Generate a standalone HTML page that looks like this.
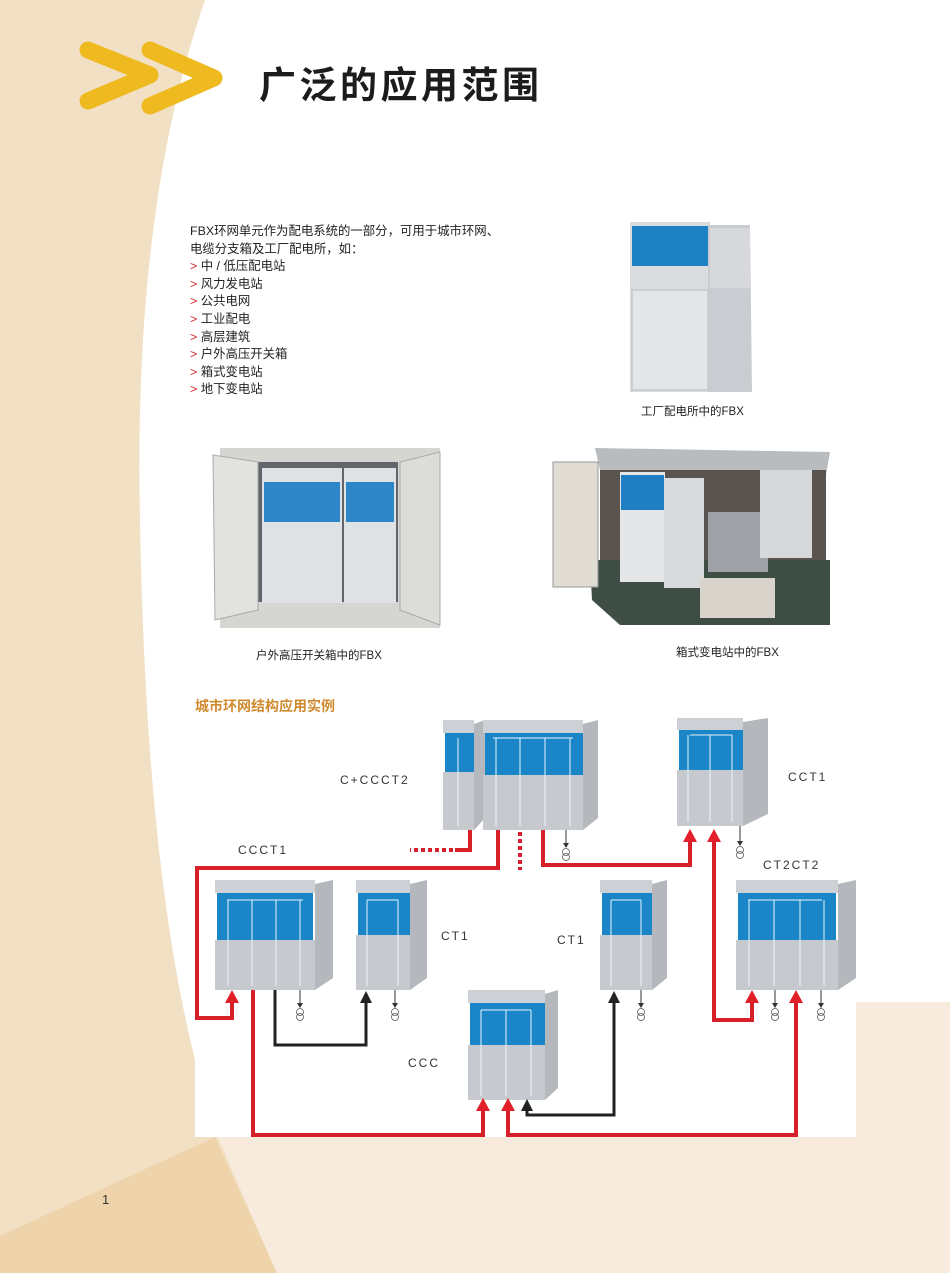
<!DOCTYPE html>
<html><head><meta charset="utf-8"><style>
body{margin:0;width:950px;height:1273px;position:relative;overflow:hidden;background:#fff;font-family:"Liberation Sans","Noto Sans CJK SC",sans-serif;}
.t{position:absolute;white-space:nowrap;}
.p{font-size:12.4px;color:#222;line-height:17.6px;}
.r{color:#d2232a;}
.cap{font-size:11.5px;color:#222;}
.lbl{position:absolute;font-size:12px;color:#333;letter-spacing:2px;}
</style></head><body>
<svg width="950" height="1273" style="position:absolute;left:0;top:0">
<path d="M0 0 L205 0 C160 130 135 300 140 520 C145 800 170 1000 218 1137 L277 1273 L0 1273 Z" fill="#f2e0c4"/>
<path d="M218 1137 L950 1137 L950 1273 L277 1273 Z" fill="#f8ebde"/>
<path d="M856 1002 L950 1002 L950 1137 L856 1137 Z" fill="#f8ebde"/>
<path d="M0 1236 L215 1137 L277 1273 L0 1273 Z" fill="#eed3ab"/>
<path d="M88 50 L150 75 L88 101" stroke="#efb920" stroke-width="17" fill="none" stroke-linecap="round" stroke-linejoin="round"/>
<path d="M150 50 L214 78 L150 106" stroke="#efb920" stroke-width="17" fill="none" stroke-linecap="round" stroke-linejoin="round"/>
<!-- photo1 -->
<rect x="630" y="222" width="80" height="170" fill="#d9dbde"/>
<rect x="632" y="226" width="76" height="40" fill="#1d82c4"/>
<rect x="632" y="290" width="76" height="100" fill="#e3e5e8" stroke="#b9bdc2"/>
<polygon points="708,225 750,225 752,392 708,392" fill="#c9ccd0"/>
<rect x="710" y="228" width="40" height="60" fill="#d7d9dc"/>
<!-- photo2 -->
<rect x="220" y="448" width="220" height="180" fill="#d5d6d2"/>
<rect x="258" y="462" width="140" height="140" fill="#62666b"/>
<rect x="262" y="468" width="80" height="135" fill="#dfe2e5"/>
<rect x="344" y="468" width="52" height="135" fill="#dfe2e5"/>
<rect x="264" y="482" width="76" height="40" fill="#2d86c7"/>
<rect x="346" y="482" width="48" height="40" fill="#2d86c7"/>
<polygon points="213,455 258,462 258,610 215,620" fill="#e2e3df" stroke="#aaa"/>
<polygon points="400,462 440,452 440,625 400,610" fill="#dcddd9" stroke="#aaa"/>
<!-- photo3 -->
<polygon points="595,448 830,452 826,475 600,470" fill="#b9bcbf"/>
<rect x="600" y="470" width="226" height="100" fill="#5a5450"/>
<polygon points="590,560 830,560 830,625 620,625 592,600" fill="#3e4e44"/>
<rect x="553" y="462" width="45" height="125" fill="#e0dcd4" stroke="#999"/>
<rect x="620" y="472" width="45" height="110" fill="#e4e6e8"/>
<rect x="621" y="475" width="43" height="35" fill="#1f7fc2"/>
<rect x="664" y="478" width="40" height="110" fill="#d9dadb"/>
<rect x="708" y="512" width="60" height="60" fill="#9ea2a6"/>
<rect x="760" y="470" width="52" height="88" fill="#d7d8d9"/>
<rect x="700" y="578" width="75" height="40" fill="#d8d4cc"/>
</svg>

<div class="t" style="left:259px;top:55px;font-size:37px;font-weight:bold;color:#1c1c1c;letter-spacing:3.5px;">广泛的应用范围</div>

<div class="t p" style="left:190px;top:223px;">FBX环网单元作为配电系统的一部分，可用于城市环网、<br>电缆分支箱及工厂配电所，如：<br><span class="r">&gt;</span> 中 / 低压配电站<br><span class="r">&gt;</span> 风力发电站<br><span class="r">&gt;</span> 公共电网<br><span class="r">&gt;</span> 工业配电<br><span class="r">&gt;</span> 高层建筑<br><span class="r">&gt;</span> 户外高压开关箱<br><span class="r">&gt;</span> 箱式变电站<br><span class="r">&gt;</span> 地下变电站</div>

<div class="t cap" style="left:641px;top:403px;">工厂配电所中的FBX</div>
<div class="t cap" style="left:256px;top:647px;">户外高压开关箱中的FBX</div>
<div class="t cap" style="left:676px;top:644px;">箱式变电站中的FBX</div>
<div class="t" style="left:195px;top:696px;font-size:14px;font-weight:bold;color:#d08a2e;">城市环网结构应用实例</div>

<svg width="950" height="1273" style="position:absolute;left:0;top:0">
<rect x="195" y="715" width="661" height="422" fill="#fff"/>
<defs><g id="tf"><circle cx="0" cy="4" r="3.5" fill="#fff" stroke="#555" stroke-width="0.8"/><circle cx="0" cy="9" r="3.5" fill="none" stroke="#555" stroke-width="0.8"/></g></defs>
<g stroke-width="0">
<polygon points="474,724 485,720 485,818 474,830" fill="#b4b7bc"/><rect x="443" y="720" width="31" height="13" fill="#cdd0d4"/><rect x="445" y="733" width="29" height="39" fill="#1a86c8"/><rect x="443" y="772" width="31" height="58" fill="#c6c9ce" stroke="#6b92b6"/>
<polygon points="583,724 598,720 598,818 583,830" fill="#b4b7bc"/><rect x="483" y="720" width="100" height="13" fill="#cdd0d4"/><rect x="485" y="733" width="98" height="42" fill="#1a86c8"/><rect x="483" y="775" width="100" height="55" fill="#c6c9ce" stroke="#6b92b6"/>
<path d="M508 775V830M533 775V830M558 775V830" stroke="#6b92b6"/>
<polygon points="743,722 768,718 768,814 743,826" fill="#b4b7bc"/><rect x="677" y="718" width="66" height="12" fill="#cdd0d4"/><rect x="679" y="730" width="64" height="40" fill="#1a86c8"/><rect x="677" y="770" width="66" height="56" fill="#c6c9ce" stroke="#6b92b6"/>
<path d="M699 770V826M721 770V826" stroke="#6b92b6"/>
<polygon points="315,884 333,880 333,978 315,990" fill="#b4b7bc"/><rect x="215" y="880" width="100" height="13" fill="#cdd0d4"/><rect x="217" y="893" width="96" height="47" fill="#1a86c8"/><rect x="215" y="940" width="100" height="50" fill="#c6c9ce" stroke="#6b92b6"/>
<path d="M241 940V990M264 940V990M289 940V990" stroke="#6b92b6"/>
<polygon points="410,884 427,880 427,978 410,990" fill="#b4b7bc"/><rect x="356" y="880" width="54" height="13" fill="#cdd0d4"/><rect x="358" y="893" width="52" height="42" fill="#1a86c8"/><rect x="356" y="935" width="54" height="55" fill="#c6c9ce" stroke="#6b92b6"/>
<path d="M383 935V990" stroke="#6b92b6"/>
<polygon points="652,884 667,880 667,978 652,990" fill="#b4b7bc"/><rect x="600" y="880" width="52" height="13" fill="#cdd0d4"/><rect x="602" y="893" width="50" height="42" fill="#1a86c8"/><rect x="600" y="935" width="52" height="55" fill="#c6c9ce" stroke="#6b92b6"/>
<path d="M626 935V990" stroke="#6b92b6"/>
<polygon points="838,884 856,880 856,978 838,990" fill="#b4b7bc"/><rect x="736" y="880" width="102" height="13" fill="#cdd0d4"/><rect x="738" y="893" width="98" height="47" fill="#1a86c8"/><rect x="736" y="940" width="102" height="50" fill="#c6c9ce" stroke="#6b92b6"/>
<path d="M762 940V990M787 940V990M813 940V990" stroke="#6b92b6"/>
<polygon points="545,994 558,990 558,1088 545,1100" fill="#b4b7bc"/><rect x="468" y="990" width="77" height="13" fill="#cdd0d4"/><rect x="470" y="1003" width="75" height="42" fill="#1a86c8"/><rect x="468" y="1045" width="77" height="55" fill="#c6c9ce" stroke="#6b92b6"/>
<path d="M494 1045V1100M519 1045V1100" stroke="#6b92b6"/>
</g>
<g stroke="#e8f2fa" stroke-width="1" fill="none">
<path d="M458 738V826M493 738H573M496 738V826M520 738V826M545 738V826M570 738V826"/>
<path d="M690 735H732M688 735V822M710 735V822M732 735V822"/>
<path d="M227 900H303M228 900V986M252 900V986M276 900V986M300 900V986"/>
<path d="M367 900H398M367 900V986M398 900V986"/>
<path d="M611 900H641M611 900V986M641 900V986"/>
<path d="M748 900H822M749 900V986M774 900V986M800 900V986M824 900V986"/>
<path d="M481 1010H531M481 1010V1096M506 1010V1096M531 1010V1096"/>
</g>
<g stroke="#d8202a" stroke-width="4" fill="none">
<path d="M470 830V850H455"/>
<path d="M453 850H410" stroke-dasharray="4 3"/>
<path d="M498 830V868H197V1018H232V1000"/>
<path d="M520 832V870" stroke-dasharray="4 3"/>
<path d="M543 830V865H690V840"/>
<path d="M714 838V1020H752V1000"/>
<path d="M253 990V1135H483V1108"/>
<path d="M508 1108V1135H796V1000"/>
</g>
<g fill="#e3202a">
<polygon points="225,1003 232,990 239,1003"/>
<polygon points="683,842 690,829 697,842"/>
<polygon points="707,842 714,829 721,842"/>
<polygon points="745,1003 752,990 759,1003"/>
<polygon points="789,1003 796,990 803,1003"/>
<polygon points="476,1111 483,1098 490,1111"/>
<polygon points="501,1111 508,1098 515,1111"/>
</g>
<g stroke="#222" stroke-width="3" fill="none">
<path d="M275 990V1045H366V1000"/>
<path d="M527 1108V1115H614V1000"/>
</g>
<g fill="#222">
<polygon points="360,1003 366,991 372,1003"/>
<polygon points="608,1003 614,991 620,1003"/>
<polygon points="521,1111 527,1099 533,1111"/>
</g>
<g stroke="#333" stroke-width="1">
<path d="M566 830V845M740 826V843M300 990V1005M395 990V1005M641 990V1005M775 990V1005M821 990V1005"/>
</g>
<g fill="#333">
<polygon points="563,843 569,843 566,848"/><polygon points="737,841 743,841 740,846"/>
<polygon points="297,1003 303,1003 300,1008"/><polygon points="392,1003 398,1003 395,1008"/>
<polygon points="638,1003 644,1003 641,1008"/><polygon points="772,1003 778,1003 775,1008"/>
<polygon points="818,1003 824,1003 821,1008"/>
</g>
<use href="#tf" x="566" y="848"/><use href="#tf" x="740" y="846"/>
<use href="#tf" x="300" y="1008"/><use href="#tf" x="395" y="1008"/><use href="#tf" x="641" y="1008"/>
<use href="#tf" x="775" y="1008"/><use href="#tf" x="821" y="1008"/>
</svg>

<div class="lbl" style="left:340px;top:773px;">C+CCCT2</div>
<div class="lbl" style="left:238px;top:843px;">CCCT1</div>
<div class="lbl" style="left:788px;top:770px;">CCT1</div>
<div class="lbl" style="left:763px;top:858px;">CT2CT2</div>
<div class="lbl" style="left:441px;top:929px;">CT1</div>
<div class="lbl" style="left:557px;top:933px;">CT1</div>
<div class="lbl" style="left:408px;top:1056px;">CCC</div>
<div class="t" style="left:102px;top:1192px;font-size:13px;color:#333;">1</div>
</body></html>
